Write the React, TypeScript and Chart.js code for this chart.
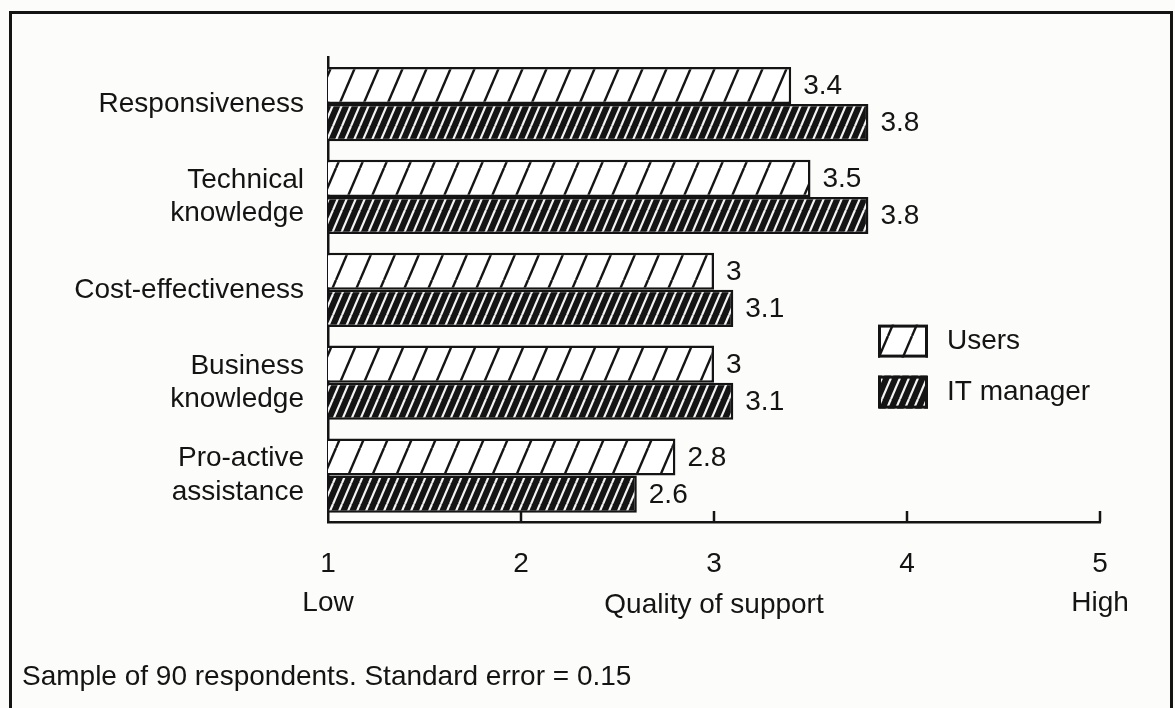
import React, { useEffect, useRef } from "react";
import { Chart, registerables } from "chart.js";

Chart.register(...registerables);

// ---- data ----
const categories: (string | string[])[] = [
  "Responsiveness",
  ["Technical", "knowledge"],
  "Cost-effectiveness",
  ["Business", "knowledge"],
  ["Pro-active", "assistance"],
];
const seriesNames = ["Users", "IT manager"];
const usersValues = [3.4, 3.5, 3, 3, 2.8];
const itManagerValues = [3.8, 3.8, 3.1, 3.1, 2.6];
const xTickValues = [1, 2, 3, 4, 5];
const xTickSubLabels = ["Low", "", "", "", "High"];
const axisTitle = "Quality of support";
const footnote = "Sample of 90 respondents. Standard error = 0.15";

const FONT = "'Liberation Sans', Arial, Helvetica, sans-serif";
const INK = "#141414";
const BG = "#fcfcfa";

function makeHatch(
  ctx: CanvasRenderingContext2D,
  bg: string,
  fg: string,
  w: number,
  h: number,
  lw: number
): CanvasPattern {
  const c = document.createElement("canvas");
  c.width = w;
  c.height = h;
  const g = c.getContext("2d")!;
  g.fillStyle = bg;
  g.fillRect(0, 0, w, h);
  g.strokeStyle = fg;
  g.lineWidth = lw;
  for (const off of [-w, 0, w]) {
    g.beginPath();
    g.moveTo(off, h);
    g.lineTo(off + w, 0);
    g.stroke();
  }
  return ctx.createPattern(c, "repeat")!;
}

export default function App() {
  const canvasRef = useRef<HTMLCanvasElement | null>(null);

  useEffect(() => {
    const canvas = canvasRef.current!;
    const ctx = canvas.getContext("2d")!;
    const usersPattern = makeHatch(ctx, "#ffffff", INK, 24, 56, 2.4);
    const itPattern = makeHatch(ctx, INK, "#f4f4f4", 9, 21, 2.2);
    const patterns = [usersPattern, itPattern];

    const tickMarks = {
      id: "tickMarks",
      afterDraw(chart: any) {
        const x = chart.scales.x;
        const c = chart.ctx;
        const bottom = chart.chartArea.bottom;
        c.save();
        c.strokeStyle = INK;
        c.lineWidth = 2.5;
        for (const v of xTickValues) {
          if (v <= x.min) continue;
          const px = x.getPixelForValue(v);
          c.beginPath();
          c.moveTo(px, bottom);
          c.lineTo(px, bottom - 11);
          c.stroke();
        }
        c.restore();
      },
    };

    const valueLabels = {
      id: "valueLabels",
      afterDatasetsDraw(chart: any) {
        const c = chart.ctx;
        c.save();
        c.fillStyle = INK;
        c.font = `28px ${FONT}`;
        c.textAlign = "left";
        c.textBaseline = "middle";
        chart.data.datasets.forEach((ds: any, di: number) => {
          const meta = chart.getDatasetMeta(di);
          meta.data.forEach((bar: any, i: number) => {
            c.fillText(String(ds.data[i]), bar.x + 12, bar.y + 1);
          });
        });
        c.restore();
      },
    };

    const legendBoxes = {
      id: "legendBoxes",
      afterDraw(chart: any) {
        const c = chart.ctx;
        const area = chart.chartArea;
        const bx = area.left + 550;
        const tops = [area.top + 267, area.top + 318];
        c.save();
        chart.data.datasets.forEach((ds: any, di: number) => {
          const top = tops[di];
          c.fillStyle = patterns[di];
          c.fillRect(bx, top, 50, 33);
          c.strokeStyle = INK;
          c.lineWidth = 3;
          c.strokeRect(bx + 1.5, top + 1.5, 47, 30);
          c.fillStyle = INK;
          c.font = `28px ${FONT}`;
          c.textAlign = "left";
          c.textBaseline = "middle";
          c.fillText(ds.label, bx + 69, top + 17);
        });
        c.restore();
      },
    };

    const chart = new Chart(canvas, {
      type: "bar",
      data: {
        labels: categories as any,
        datasets: [
          {
            label: seriesNames[0],
            data: usersValues,
            backgroundColor: usersPattern as any,
            borderColor: INK,
            borderWidth: 2.5,
            categoryPercentage: 0.8,
            barPercentage: 1,
          },
          {
            label: seriesNames[1],
            data: itManagerValues,
            backgroundColor: itPattern as any,
            borderColor: INK,
            borderWidth: 2.5,
            categoryPercentage: 0.8,
            barPercentage: 1,
          },
        ],
      },
      options: {
        indexAxis: "y",
        responsive: false,
        animation: false,
        layout: { padding: { top: 55, right: 75, bottom: 0, left: 0 } },
        scales: {
          x: {
            type: "linear",
            min: 1,
            max: 5,
            position: "bottom",
            ticks: {
              stepSize: 1,
              padding: 23,
              color: INK,
              autoSkip: false,
              maxRotation: 0,
              font: { family: FONT, size: 28, lineHeight: 1.38 },
              callback: (v: any) => {
                const i = xTickValues.indexOf(Number(v));
                return [String(v), i >= 0 ? xTickSubLabels[i] : ""];
              },
            },
            grid: { display: false, drawTicks: false },
            border: { display: true, color: INK, width: 2.5 },
            title: {
              display: true,
              text: axisTitle,
              color: INK,
              font: { family: FONT, size: 28, lineHeight: 1.2 },
              padding: { top: 0, bottom: 86 },
            },
            afterFit: (s: any) => {
              s.height = 186;
            },
          } as any,
          y: {
            ticks: {
              padding: 24,
              color: INK,
              autoSkip: false,
              font: { family: FONT, size: 28, lineHeight: 1.2 },
            },
            grid: { display: false, drawTicks: false },
            border: { display: true, color: INK, width: 2.5 },
            afterFit: (s: any) => {
              s.width = 328;
            },
          } as any,
        },
        plugins: {
          legend: { display: false },
          tooltip: { enabled: false },
          title: { display: false },
        },
      },
      plugins: [tickMarks, valueLabels, legendBoxes],
    });

    return () => chart.destroy();
  }, []);

  return (
    <div
      style={{
        position: "fixed",
        left: 0,
        top: 0,
        width: 1175,
        height: 708,
        overflow: "hidden",
        background: BG,
      }}
    >
      <div
        style={{
          position: "absolute",
          left: 9,
          top: 11,
          width: 1164,
          height: 760,
          boxSizing: "border-box",
          border: `3px solid ${INK}`,
        }}
      />
      <canvas
        ref={canvasRef}
        width={1175}
        height={708}
        style={{ position: "absolute", left: 0, top: 0, display: "block" }}
      />
      <div
        style={{
          position: "absolute",
          left: 22,
          top: 659,
          fontFamily: FONT,
          fontSize: 28,
          lineHeight: "34px",
          color: INK,
          whiteSpace: "nowrap",
        }}
      >
        {footnote}
      </div>
    </div>
  );
}
